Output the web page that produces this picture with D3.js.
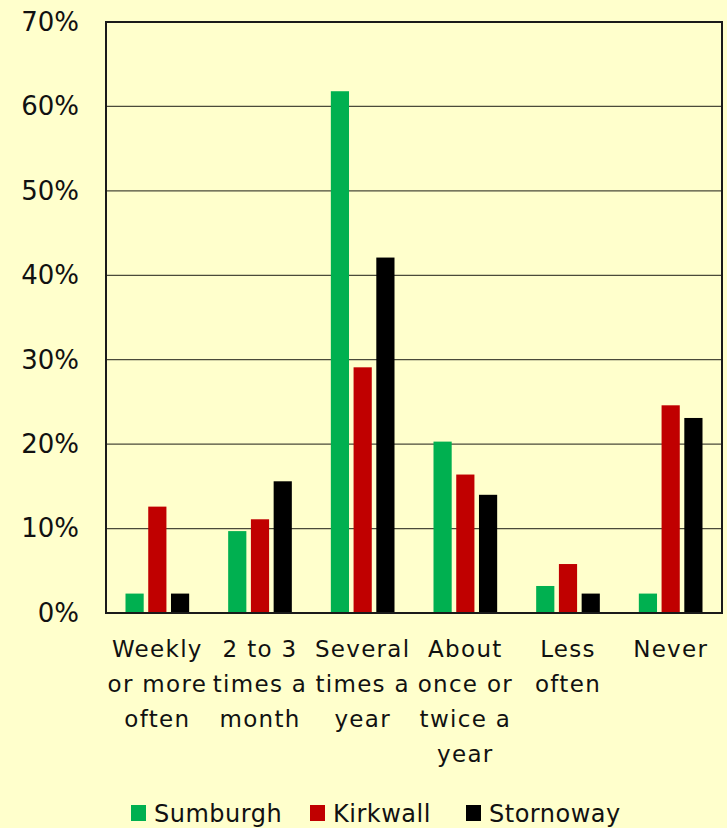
<!DOCTYPE html>
<html>
<head>
<meta charset="utf-8">
<script src="https://cdn.jsdelivr.net/npm/d3@7"></script>
<style>
  html, body { margin: 0; padding: 0; background: #FFFFCC; }
  svg { display: block; }
  text { font-family: "DejaVu Sans", sans-serif; fill: #111; }
</style>
</head>
<body>
<script>
// chart data
var categories = ["Weekly or more often", "2 to 3 times a month", "Several times a year",
                  "About once or twice a year", "Less often", "Never"];
var tickLines = [
  ["Weekly", "or more", "often"],
  ["2 to 3", "times a", "month"],
  ["Several", "times a", "year"],
  ["About", "once or", "twice a", "year"],
  ["Less", "often"],
  ["Never"]
];
var series = ["Sumburgh", "Kirkwall", "Stornoway"];
var sumburgh = [2.3, 9.7, 61.8, 20.3, 3.2, 2.3];
var kirkwall = [12.6, 11.1, 29.1, 16.4, 5.8, 24.6];
var stornoway = [2.3, 15.6, 42.1, 14.0, 2.3, 23.1];
var colors = ["#00B050", "#C00000", "#000000"];
var yTicks = [0, 10, 20, 30, 40, 50, 60, 70];

var width = 727, height = 828;
var margin = {top: 22, right: 5, bottom: 215, left: 106};
var w = width - margin.left - margin.right;
var h = height - margin.top - margin.bottom;

var rows = categories.map(function(c, i) {
  return {cat: c, lines: tickLines[i], values: [sumburgh[i], kirkwall[i], stornoway[i]]};
});

var svg = d3.select("body").append("svg")
  .attr("width", width)
  .attr("height", height);

var g = svg.append("g")
  .attr("transform", "translate(" + margin.left + "," + margin.top + ")");

var x0 = d3.scaleBand().domain(categories).range([0, w]).padding(0);
var x1 = d3.scaleBand().domain(series)
  .range([19.5, x0.bandwidth() - 19.5]).paddingInner(0.2);
var y = d3.scaleLinear().domain([0, 70]).range([h, 0]);

// gridlines
g.selectAll(".grid")
  .data(yTicks.slice(1, -1))
  .enter().append("line")
  .attr("x1", 0).attr("x2", w)
  .attr("y1", function(d) { return y(d); })
  .attr("y2", function(d) { return y(d); })
  .style("stroke", "#4a4a3a")
  .style("stroke-width", 1.3);

// y axis labels
var yAxis = d3.axisLeft(y).tickValues(yTicks)
  .tickFormat(function(d) { return d + "%"; })
  .tickSize(0).tickPadding(27);
var ya = g.append("g").call(yAxis);
ya.select(".domain").remove();
ya.selectAll("text")
  .style("font-size", "26px")
  .style("font-family", "DejaVu Sans, sans-serif")
  .style("fill", "#111");

// bars
var groups = g.selectAll(".cat")
  .data(rows)
  .enter().append("g")
  .attr("transform", function(d) { return "translate(" + x0(d.cat) + ",0)"; });

groups.selectAll("rect")
  .data(function(d) { return d.values.map(function(v, i) { return {s: series[i], v: v, i: i}; }); })
  .enter().append("rect")
  .attr("x", function(d) { return x1(d.s); })
  .attr("width", x1.bandwidth())
  .attr("y", function(d) { return y(d.v); })
  .attr("height", function(d) { return h - y(d.v); })
  .attr("fill", function(d) { return colors[d.i]; });

// plot border
g.append("rect")
  .attr("x", 0).attr("y", 0)
  .attr("width", w).attr("height", h)
  .attr("fill", "none")
  .style("stroke", "#1a1a1a")
  .style("stroke-width", 2);

// category labels (multi-line)
var labels = g.selectAll(".lab")
  .data(rows)
  .enter().append("text")
  .attr("text-anchor", "middle")
  .attr("transform", function(d) { return "translate(" + (x0(d.cat) + x0.bandwidth() / 2) + "," + (h + 44) + ")"; })
  .style("font-size", "23px")
  .style("letter-spacing", "1.3px");

labels.selectAll("tspan")
  .data(function(d) { return d.lines; })
  .enter().append("tspan")
  .attr("x", 0)
  .attr("y", function(d, i) { return i * 35; })
  .text(function(d) { return d; });

// legend
var legendX = [131, 310, 466];
var legend = svg.selectAll(".leg")
  .data(series)
  .enter().append("g")
  .attr("transform", function(d, i) { return "translate(" + legendX[i] + ",805)"; });

legend.append("rect")
  .attr("width", 15).attr("height", 16)
  .attr("fill", function(d, i) { return colors[i]; });

legend.append("text")
  .attr("x", 23).attr("y", 17)
  .style("font-size", "24px")
  .style("letter-spacing", "0.5px")
  .text(function(d) { return d; });
</script>
</body>
</html>
